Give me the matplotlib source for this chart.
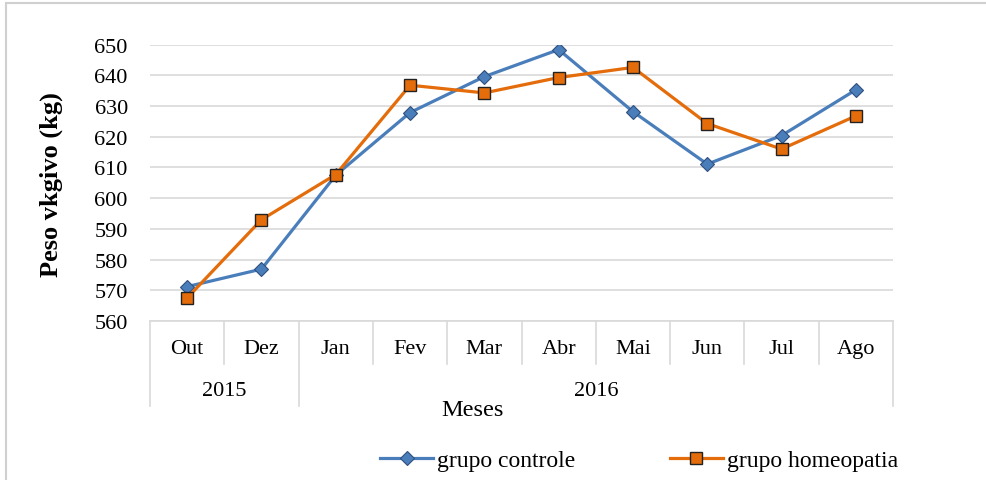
import matplotlib
matplotlib.use("Agg")
import matplotlib.pyplot as plt
from matplotlib.lines import Line2D
from matplotlib.patches import Rectangle

months = ["Out", "Dez", "Jan", "Fev", "Mar", "Abr", "Mai", "Jun", "Jul", "Ago"]
years = ["2015", "2016"]
year_spans = [(0, 1), (2, 9)]
controle = [571.2, 576.9, 607.5, 627.9, 639.6, 648.4, 628.2, 611.1, 620.4, 635.3]
homeopatia = [567.5, 593.0, 607.7, 636.8, 634.3, 639.3, 642.6, 624.3, 616.0, 626.8]
yticks = [560, 570, 580, 590, 600, 610, 620, 630, 640, 650]

plt.rcParams['font.family'] = ['Liberation Serif', 'DejaVu Serif']

W, H = 986, 481
fig = plt.figure(figsize=(W / 100, H / 100), dpi=100)
ax = fig.add_axes([150 / W, (H - 322) / H, (893 - 150) / W, (322 - 45.7) / H])

blue = "#4A7EBB"
orange = "#E46C0A"
grid_c = "#D9D9D9"
fs = 16

x = list(range(len(months)))
ax.plot(x, controle, color=blue, lw=2.3, marker="D", ms=7,
        markerfacecolor=blue, markeredgecolor="#2F4F7F", markeredgewidth=0.8,
        label="grupo controle", zorder=3)
ax.plot(x, homeopatia, color=orange, lw=2.3, marker="s", ms=8.5,
        markerfacecolor=orange, markeredgecolor="#222222", markeredgewidth=1.0,
        label="grupo homeopatia", zorder=4)

ax.set_xlim(-0.5, len(months) - 0.5)
ax.set_ylim(560, 650)
ax.set_yticks(yticks)
ax.set_yticklabels([str(v) for v in yticks], fontsize=fs)
ax.tick_params(axis="y", length=0, pad=16)
ax.set_xticks([])
ax.grid(axis="y", color=grid_c, lw=1.2)
ax.set_axisbelow(True)
for s in ["top", "right", "left"]:
    ax.spines[s].set_visible(False)
ax.spines["bottom"].set_color(grid_c)
ax.spines["bottom"].set_linewidth(1.2)

tr = ax.get_xaxis_transform()
ah = (322 - 45.7)
short = -(365 - 322) / ah
long_ = -(407 - 322) / ah
group_bounds = [-0.5, 1.5, len(months) - 0.5]
for i in range(len(months) + 1):
    xb = i - 0.5
    y1 = long_ if xb in group_bounds else short
    ax.add_line(Line2D([xb, xb], [0, y1], transform=tr, color=grid_c, lw=1.2, clip_on=False))

for i, m in enumerate(months):
    ax.text(i, -(350 - 322) / ah, m, transform=tr, ha="center", va="center", fontsize=fs)
for yr, (a, b) in zip(years, year_spans):
    ax.text((a + b) / 2, -(392 - 322) / ah, yr, transform=tr, ha="center", va="center", fontsize=fs)

fig.text(472 / W, 1 - 410 / H, "Meses", ha="center", va="center", fontsize=17.5)
fig.text(51 / W, 1 - 185 / H, "Peso vkgivo (kg)", ha="center", va="center",
         rotation=90, fontsize=19, fontweight="bold")

fig.legend(loc="center left", bbox_to_anchor=(380 / W, 1 - 461 / H), ncol=2, frameon=False,
           fontsize=17, handlelength=2.25, handletextpad=0.17, columnspacing=4.0,
           borderpad=0, borderaxespad=0)

fig.patches.append(Rectangle((6 / W, -0.1), 1.2, 1 - 4 / H + 0.1, transform=fig.transFigure,
                             fill=False, edgecolor="#D0D0D0", lw=1.5))

fig.savefig("out.png", dpi=100)
